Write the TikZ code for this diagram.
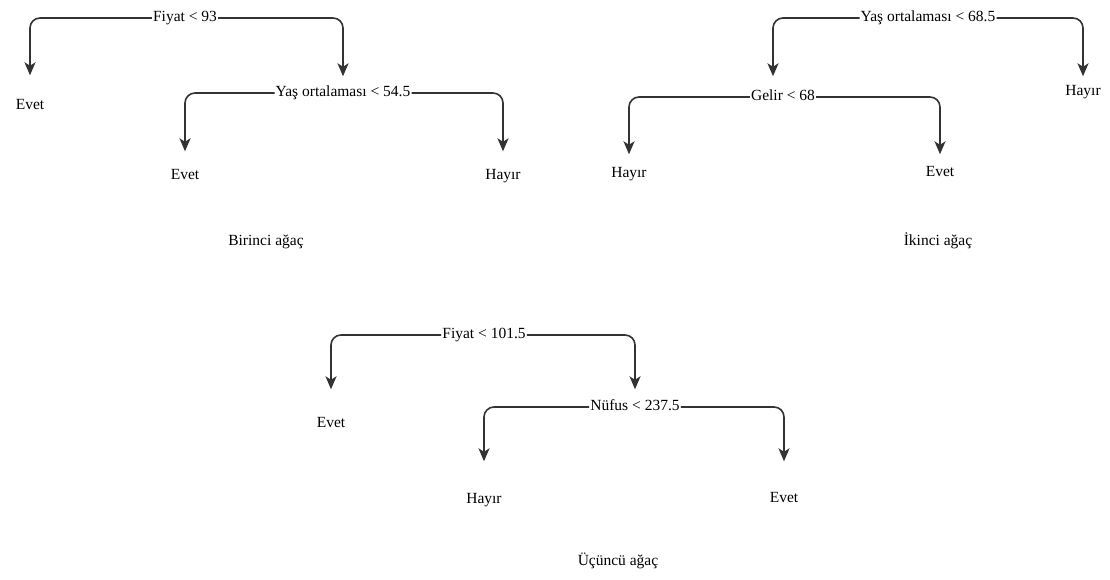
\documentclass[tikz,border=0pt]{standalone}
\usepackage{fontspec}
\setmainfont{Liberation Serif}
\usetikzlibrary{arrows.meta}

\begin{document}
\begin{tikzpicture}[x=1pt, y=-1pt, >={Stealth[length=13pt, width=11pt, inset=3.5pt]},
    every node/.style={font=\fontsize{15.5}{18}\selectfont, inner sep=1pt, text height=10.5pt, text depth=3.5pt, anchor=base},
    branch/.style={->, line width=1.6pt, draw=black!80, rounded corners=10pt}]
    \useasboundingbox (0,0) rectangle (1110,580);

    % first tree
    \node (fiyat1) at (185,21.5) {Fiyat < 93};
    \node (evet1) at (30,110) {Evet};
    \node (yas1) at (343,96.5) {Yaş ortalaması < 54.5};
    \node (evet2) at (185,180) {Evet};
    \node (hayir1) at (503,180) {Hayır};
    \node (name1) at (266,245) {Birinci ağaç};
    \draw[branch, shorten >=23pt] (fiyat1.west) -| (evet1.north);
    \draw[branch, shorten >=8.5pt] (fiyat1.east) -| (yas1.north);
    \draw[branch, shorten >=17pt] (yas1.west) -| (evet2.north);
    \draw[branch, shorten >=17pt] (yas1.east) -| (hayir1.north);

    % second tree
    \node (yas2) at (928,21.5) {Yaş ortalaması < 68.5};
    \node (gelir) at (783,100.5) {Gelir < 68};
    \node (hayir2) at (1083,96) {Hayır};
    \node (hayir3) at (629,178) {Hayır};
    \node (evet3) at (940,177) {Evet};
    \node (name2) at (938,245) {İkinci ağaç};
    \draw[branch, shorten >=12.5pt] (yas2.west) -| ([xshift=-10pt]gelir.north);
    \draw[branch, shorten >=8pt] (yas2.east) -| (hayir2.north);
    \draw[branch, shorten >=12pt] (gelir.west) -| (hayir3.north);
    \draw[branch, shorten >=11pt] (gelir.east) -| (evet3.north);

    % third tree
    \node (fiyat2) at (484,338.5) {Fiyat < 101.5};
    \node (evet4) at (331,427) {Evet};
    \node (nufus) at (635,410.5) {Nüfus < 237.5};
    \node (hayir4) at (484,503) {Hayır};
    \node (evet5) at (784,502) {Evet};
    \node (name3) at (618,565) {Üçüncü ağaç};
    \draw[branch, shorten >=26pt] (fiyat2.west) -| (evet4.north);
    \draw[branch, shorten >=9.5pt] (fiyat2.east) -| (nufus.north);
    \draw[branch, shorten >=30pt] (nufus.west) -| (hayir4.north);
    \draw[branch, shorten >=29pt] (nufus.east) -| (evet5.north);
\end{tikzpicture}
\end{document}
